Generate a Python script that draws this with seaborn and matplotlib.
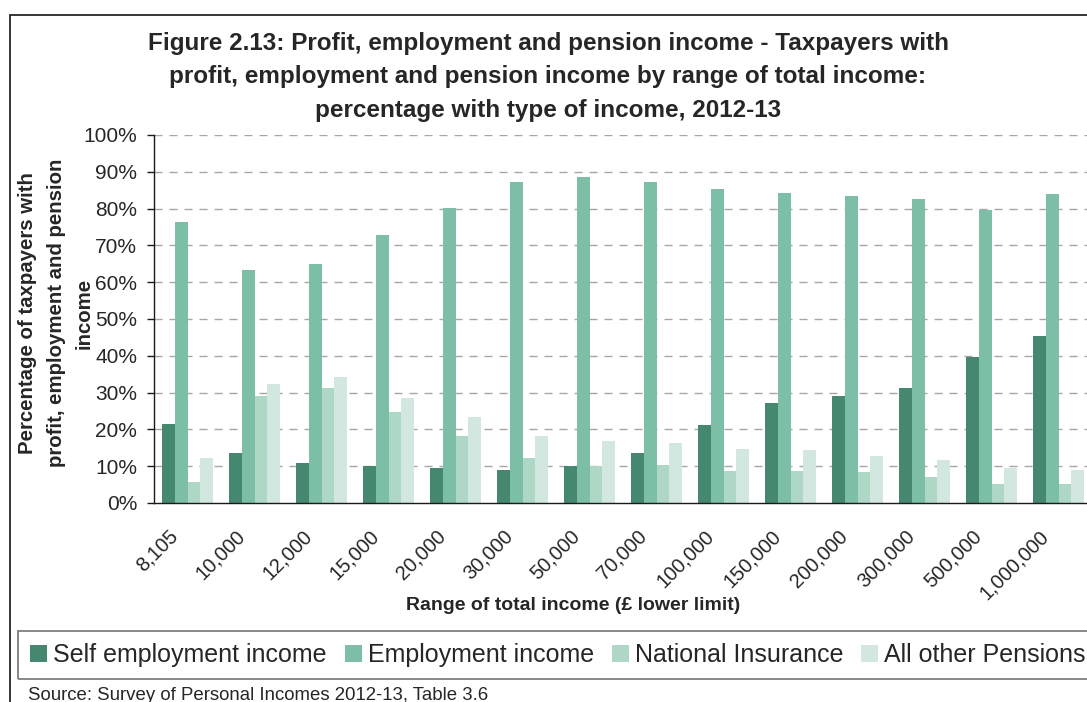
import numpy as np
import pandas as pd
import matplotlib
matplotlib.use("Agg")
import matplotlib.pyplot as plt
from matplotlib.patches import Rectangle
from matplotlib.transforms import ScaledTranslation
from matplotlib.ticker import FuncFormatter
import seaborn as sns

# ---- data -------------------------------------------------------------
income_bands = ["8,105", "10,000", "12,000", "15,000", "20,000", "30,000", "50,000",
                "70,000", "100,000", "150,000", "200,000", "300,000", "500,000", "1,000,000"]
self_employment = [21.5, 13.7, 10.9, 10.1, 9.6, 9.0, 10.1, 13.7, 21.3, 27.2, 29.1, 31.3, 39.8, 45.5]
employment = [76.4, 63.3, 65.0, 72.9, 80.2, 87.3, 88.6, 87.3, 85.4, 84.3, 83.5, 82.7, 79.7, 84.1]
national_insurance = [5.8, 29.1, 31.3, 24.8, 18.3, 12.3, 10.1, 10.4, 8.8, 8.8, 8.3, 7.2, 5.1, 5.1]
other_pensions = [12.3, 32.4, 34.3, 28.6, 23.5, 18.3, 16.9, 16.4, 14.8, 14.3, 12.9, 11.8, 9.6, 9.0]
series_names = ["Self employment income", "Employment income",
                "National Insurance", "All other Pensions"]
series_colors = ["#46876F", "#7DBEA6", "#AED7C6", "#D2E7DF"]

df = pd.DataFrame({
    "band": income_bands * 4,
    "pct": self_employment + employment + national_insurance + other_pensions,
    "type": [s for s in series_names for _ in income_bands],
})

# ---- figure -----------------------------------------------------------
W, H, DPI = 1087, 702, 100
sns.set_style("white")
plt.rcParams["font.family"] = ["Liberation Sans", "DejaVu Sans"]
plt.rcParams["lines.scale_dashes"] = False

fig = plt.figure(figsize=(W / DPI, H / DPI), dpi=DPI)
fig.patch.set_facecolor("white")


def fx(px):
    return px / W


def fy(py):
    return 1 - py / H


ax = fig.add_axes([fx(154), fy(503), fx(1092) - fx(154), fy(135) - fy(503)])

sns.barplot(data=df, x="band", y="pct", hue="type", order=income_bands,
            hue_order=series_names, palette=series_colors, saturation=1,
            width=0.75, gap=0, errorbar=None, ax=ax, legend=True, zorder=3,
            linewidth=0, edgecolor="none")

handles, labels = ax.get_legend_handles_labels()
ax.get_legend().remove()

ax.set_xlim(-0.5, len(income_bands) - 0.5)
ax.set_ylim(0, 100)
ax.set_yticks(np.arange(0, 101, 10))
ax.yaxis.set_major_formatter(FuncFormatter(lambda v, _: f"{v:.0f}%"))
ax.set_xlabel("")
ax.set_ylabel("")

# dashed horizontal gridlines
for v in range(10, 101, 10):
    ax.axhline(v, color="#a6a6a6", lw=1.0, linestyle=(0, (5.8, 5.0)), zorder=1)

for side in ["top", "right"]:
    ax.spines[side].set_visible(False)
for side in ["left", "bottom"]:
    ax.spines[side].set_color("#1a1a1a")
    ax.spines[side].set_linewidth(1.0)
    ax.spines[side].set_zorder(4)

# category labels at group centres, tick marks at group boundaries
ax.set_xticks(np.arange(len(income_bands)))
ax.set_xticklabels(income_bands, rotation=45, ha="right", va="top",
                   rotation_mode="default", fontsize=14.5)
ax.set_xticks(np.arange(len(income_bands) + 1) - 0.5, minor=True)
ax.tick_params(axis="x", which="major", length=0, pad=17)
ax.tick_params(axis="x", which="minor", length=5, width=1, color="#1a1a1a", direction="out")
ax.tick_params(axis="y", length=5, width=1, color="#1a1a1a", direction="out",
               pad=7, labelsize=15, left=True)
for lab in ax.get_xticklabels():
    lab.set_transform(lab.get_transform() + ScaledTranslation(-6 / DPI, 0, fig.dpi_scale_trans))

# ---- texts ------------------------------------------------------------
fig.text(fx(548), fy(77),
         "Figure 2.13: Profit, employment and pension income - Taxpayers with\n"
         "profit, employment and pension income by range of total income:\n"
         "percentage with type of income, 2012-13",
         ha="center", va="center", fontsize=17.5, fontweight="bold", linespacing=1.6)

fig.text(fx(56), fy(313),
         "Percentage of taxpayers with\nprofit, employment and pension\nincome",
         ha="center", va="center", rotation=90, fontsize=14.7, fontweight="bold",
         linespacing=1.6, multialignment="center")

fig.text(fx(573), fy(605), "Range of total income (£ lower limit)",
         ha="center", va="center", fontsize=14, fontweight="bold")

fig.text(fx(28), fy(700), "Source: Survey of Personal Incomes 2012-13, Table 3.6",
         ha="left", va="baseline", fontsize=13.4)

# ---- legend -----------------------------------------------------------
fig.legend(handles, labels, loc="center left", bbox_to_anchor=(fx(30), fy(655)),
           ncol=4, frameon=False, fontsize=18, borderaxespad=0, borderpad=0,
           handlelength=0.68, handleheight=0.68, handletextpad=0.24,
           columnspacing=0.72)

fig.patches.append(Rectangle((fx(18), fy(679)), fx(1110) - fx(18), fy(631) - fy(679),
                             transform=fig.transFigure, fill=False,
                             edgecolor="#7f7f7f", lw=1.3))
fig.patches.append(Rectangle((fx(10), fy(720)), fx(1110) - fx(10), fy(15) - fy(720),
                             transform=fig.transFigure, fill=False,
                             edgecolor="#262626", lw=1.3))

fig.savefig("out.png", dpi=DPI)
